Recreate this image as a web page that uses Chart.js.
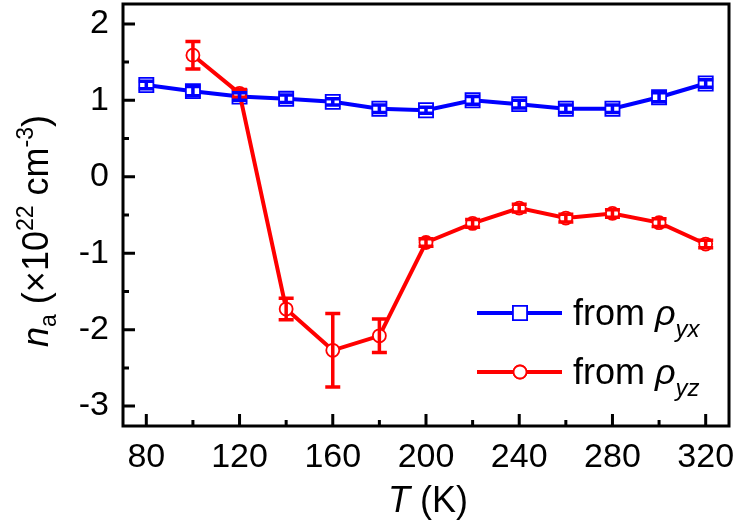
<!DOCTYPE html>
<html>
<head>
<meta charset="utf-8">
<script src="https://cdn.jsdelivr.net/npm/chart.js@4"></script>
<style>
  html, body { margin: 0; padding: 0; background: #fff; }
  #wrap { width: 738px; height: 527px; }
</style>
</head>
<body>
<div id="wrap"><canvas id="chart"></canvas></div>
<script>
// data
const temps = [80, 100, 120, 140, 160, 180, 200, 220, 240, 260, 280, 300, 320];
const nYx = [1.20, 1.12, 1.05, 1.02, 0.98, 0.89, 0.87, 1.00, 0.95, 0.89, 0.89, 1.04, 1.22];
const nYxErr = [0.05, 0.06, 0.05, 0.05, 0.04, 0.05, 0.04, 0.05, 0.05, 0.05, 0.05, 0.06, 0.05];
const nYz = [null, 1.59, 1.09, -1.73, -2.27, -2.08, -0.86, -0.61, -0.41, -0.54, -0.48, -0.60, -0.88];
const nYzErr = [null, 0.18, 0.05, 0.14, 0.48, 0.22, 0.05, 0.05, 0.05, 0.05, 0.05, 0.05, 0.05];
const xTicks = [80, 120, 160, 200, 240, 280, 320];
const xMinor = [100, 140, 180, 220, 260, 300];
const yTicks = [2, 1, 0, -1, -2, -3];
const yMinor = [1.5, 0.5, -0.5, -1.5, -2.5];

const BLUE = "#0000ff";
const RED = "#ff0000";
const FONT = "'Liberation Sans', Arial, sans-serif";

function toPoints(ys) {
  return temps.map((t, i) => ({ x: t, y: ys[i] })).filter(p => p.y !== null);
}
function errFor(ys, errs) {
  return errs.filter((e, i) => ys[i] !== null);
}

// draw a run of text pieces (italic / sub / superscript) starting at x along baseline 0
function drawPieces(ctx, pieces, x0) {
  let x = x0;
  pieces.forEach(p => {
    ctx.font = (p.italic ? "italic " : "") + p.size + "px " + FONT;
    ctx.fillText(p.t, x, p.dy || 0);
    x += ctx.measureText(p.t).width;
  });
}
function piecesWidth(ctx, pieces) {
  let w = 0;
  pieces.forEach(p => {
    ctx.font = (p.italic ? "italic " : "") + p.size + "px " + FONT;
    w += ctx.measureText(p.t).width;
  });
  return w;
}

const decor = {
  id: "decor",
  afterDatasetsDraw(chart) {
    const ctx = chart.ctx;
    const xs = chart.scales.x, ys = chart.scales.y;
    const a = chart.chartArea;

    // error bars
    chart.data.datasets.forEach(ds => {
      ctx.save();
      ctx.strokeStyle = ds.borderColor;
      ctx.lineWidth = 3.5;
      ds.data.forEach((p, i) => {
        const e = ds.errors[i];
        const px = xs.getPixelForValue(p.x);
        const top = ys.getPixelForValue(p.y + e);
        const bot = ys.getPixelForValue(p.y - e);
        ctx.beginPath();
        ctx.moveTo(px, top); ctx.lineTo(px, bot);
        ctx.moveTo(px - 7.5, top); ctx.lineTo(px + 7.5, top);
        ctx.moveTo(px - 7.5, bot); ctx.lineTo(px + 7.5, bot);
        ctx.stroke();
      });
      ctx.restore();
    });

    // frame and inward ticks
    ctx.save();
    ctx.strokeStyle = "#000";
    ctx.lineWidth = 3;
    ctx.strokeRect(a.left, a.top, a.right - a.left, a.bottom - a.top);
    ctx.beginPath();
    xTicks.forEach(v => { const px = xs.getPixelForValue(v); ctx.moveTo(px, a.bottom); ctx.lineTo(px, a.bottom - 12); });
    xMinor.forEach(v => { const px = xs.getPixelForValue(v); ctx.moveTo(px, a.bottom); ctx.lineTo(px, a.bottom - 6); });
    yTicks.forEach(v => { const py = ys.getPixelForValue(v); ctx.moveTo(a.left, py); ctx.lineTo(a.left + 12, py); });
    yMinor.forEach(v => { const py = ys.getPixelForValue(v); ctx.moveTo(a.left, py); ctx.lineTo(a.left + 6, py); });
    ctx.stroke();
    ctx.restore();

    // axis titles
    const xt = [
      { t: "T", size: 36, italic: true },
      { t: " (K)", size: 36 }
    ];
    ctx.save();
    ctx.fillStyle = "#000";
    ctx.translate(0, 512);
    drawPieces(ctx, xt, 428 - piecesWidth(ctx, xt) / 2);
    ctx.restore();

    const yt = [
      { t: "n", size: 36, italic: true },
      { t: "a", size: 23, dy: 8 },
      { t: " (\u00d710", size: 36 },
      { t: "22", size: 23, dy: -15 },
      { t: " cm", size: 36 },
      { t: "-3", size: 23, dy: -15 },
      { t: ")", size: 36 }
    ];
    ctx.save();
    ctx.fillStyle = "#000";
    ctx.translate(48, 231);
    ctx.rotate(-Math.PI / 2);
    drawPieces(ctx, yt, -piecesWidth(ctx, yt) / 2);
    ctx.restore();

    // legend
    const legend = [
      { color: BLUE, style: "rect", r: 10, y: 313, sub: "yx" },
      { color: RED, style: "circle", r: 6.5, y: 372, sub: "yz" }
    ];
    legend.forEach(l => {
      ctx.save();
      ctx.strokeStyle = l.color;
      ctx.lineWidth = 4;
      ctx.beginPath();
      ctx.moveTo(477, l.y); ctx.lineTo(562, l.y);
      ctx.stroke();
      ctx.fillStyle = "#fff";
      ctx.lineWidth = 1.8;
      Chart.helpers.drawPoint(ctx, { pointStyle: l.style, radius: l.r, borderWidth: 1.8 }, 520, l.y);
      ctx.fill();
      ctx.stroke();
      ctx.fillStyle = "#000";
      ctx.translate(0, l.y + 12);
      drawPieces(ctx, [
        { t: "from ", size: 36 },
        { t: "\u03c1", size: 36, italic: true },
        { t: l.sub, size: 24, italic: true, dy: 12 }
      ], 573);
      ctx.restore();
    });
  }
};

new Chart(document.getElementById("chart").getContext("2d"), {
  type: "line",
  data: {
    datasets: [
      {
        label: "from \u03c1yz",
        data: toPoints(nYz),
        errors: errFor(nYz, nYzErr),
        borderColor: RED,
        backgroundColor: "#fff",
        borderWidth: 4,
        pointStyle: "circle",
        pointRadius: 6.5,
        pointBorderWidth: 1.8,
        pointBackgroundColor: "#fff",
        order: 0
      },
      {
        label: "from \u03c1yx",
        data: toPoints(nYx),
        errors: errFor(nYx, nYxErr),
        borderColor: BLUE,
        backgroundColor: "#fff",
        borderWidth: 4,
        pointStyle: "rect",
        pointRadius: 10,
        pointBorderWidth: 1.8,
        pointBackgroundColor: "#fff",
        order: 1
      }
    ]
  },
  options: {
    responsive: true,
    maintainAspectRatio: false,
    animation: false,
    layout: { autoPadding: false, padding: { left: 0, top: 4, right: 9, bottom: 0 } },
    plugins: { legend: { display: false }, tooltip: { enabled: false } },
    elements: { line: { tension: 0 } },
    scales: {
      x: {
        type: "linear",
        min: 70,
        max: 330,
        afterBuildTicks: s => { s.ticks = xTicks.map(v => ({ value: v })); },
        afterFit: s => { s.height = 101; s.paddingLeft = 0; s.paddingRight = 0; },
        grid: { display: false, drawTicks: false },
        border: { display: false },
        ticks: {
          color: "#000",
          font: { family: FONT, size: 34 },
          padding: 11,
          maxRotation: 0,
          callback: v => String(v)
        }
      },
      y: {
        type: "linear",
        min: -3.26,
        max: 2.26,
        afterBuildTicks: s => { s.ticks = yTicks.map(v => ({ value: v })); },
        afterFit: s => { s.width = 123; s.paddingTop = 0; s.paddingBottom = 0; },
        grid: { display: false, drawTicks: false },
        border: { display: false },
        ticks: {
          color: "#000",
          font: { family: FONT, size: 34 },
          padding: 14,
          callback: v => String(v)
        }
      }
    }
  },
  plugins: [decor]
});
</script>
</body>
</html>
